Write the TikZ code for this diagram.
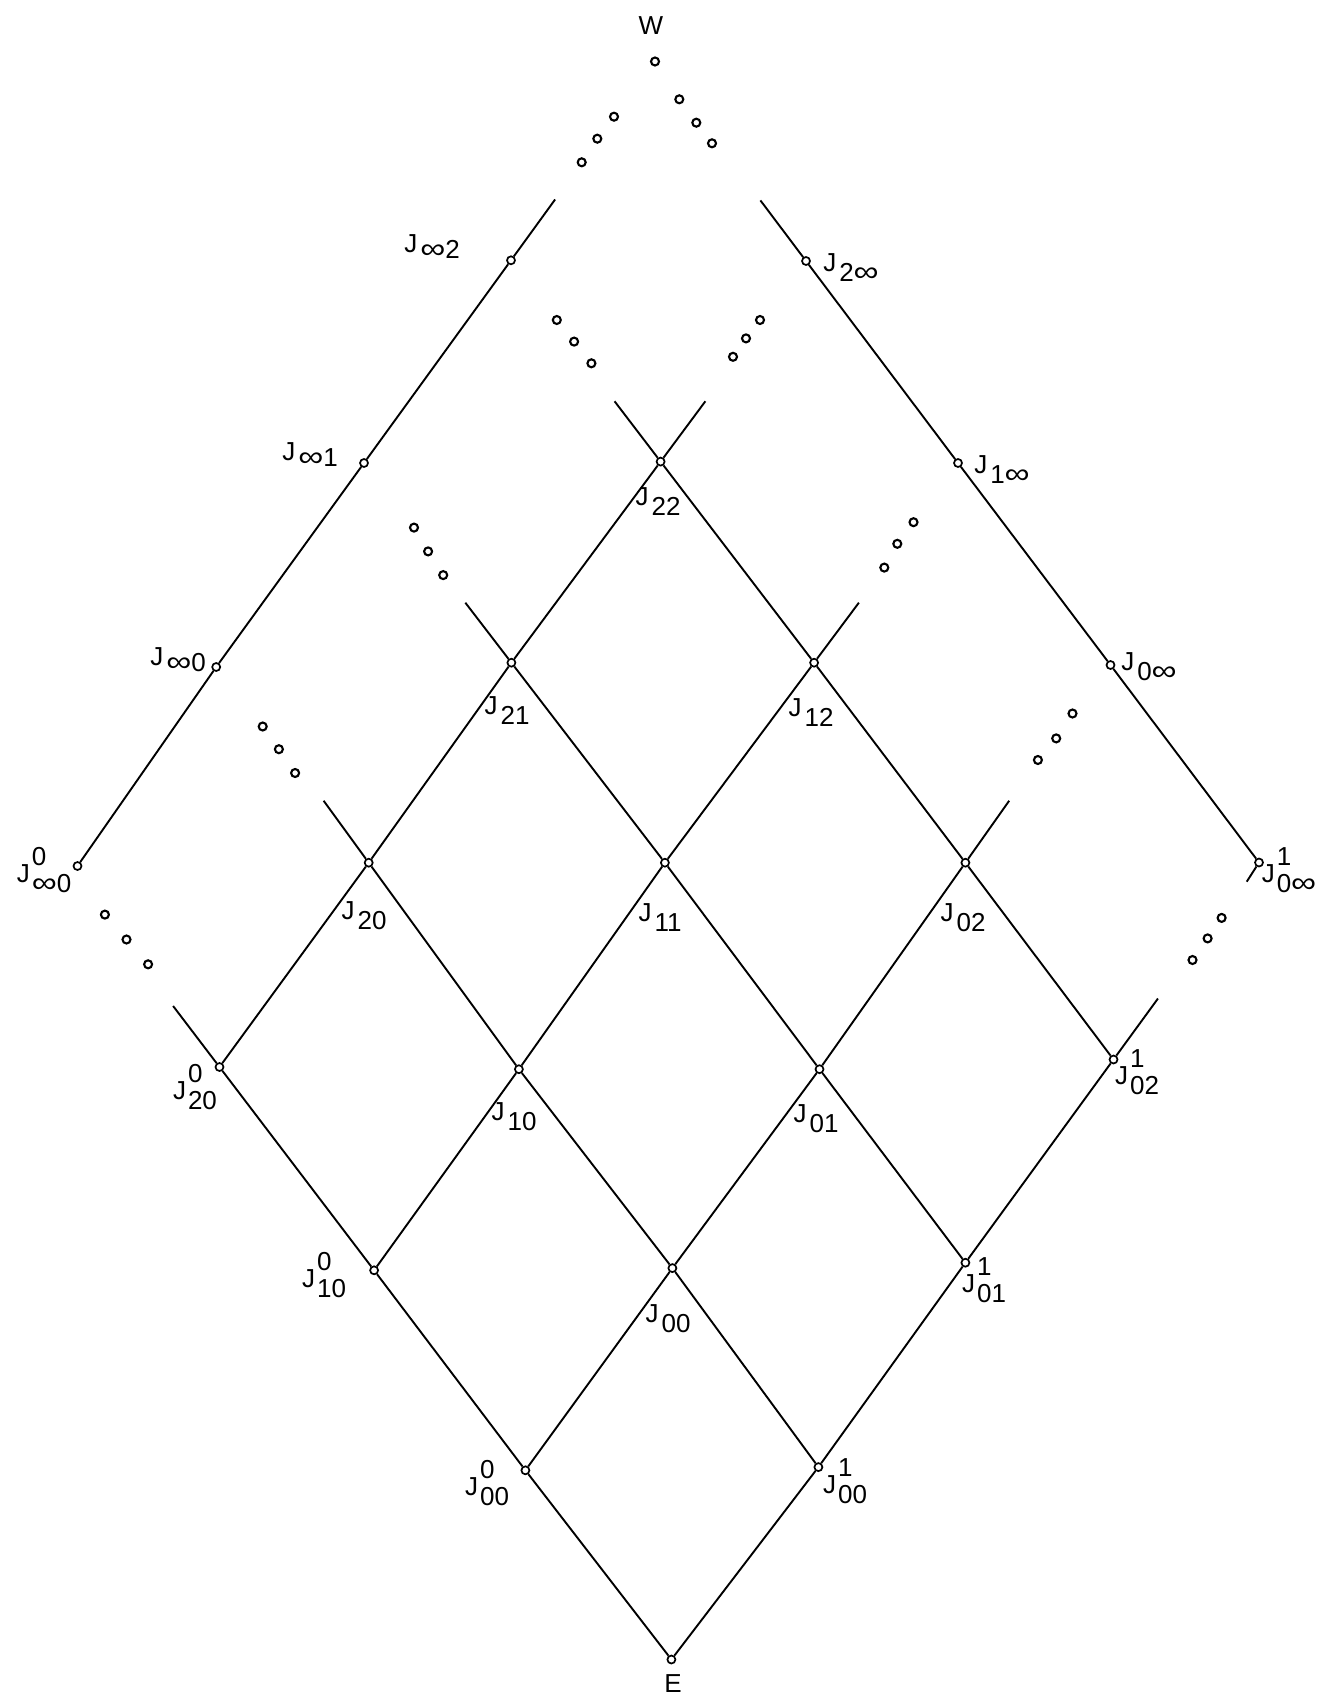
\documentclass[tikz,border=0pt]{standalone}
\usepackage{fontspec}
\setmainfont{Liberation Sans}
\usetikzlibrary{calc}
\newcommand\inff{\scalebox{1.35}[1.1]{∞}}
\newcommand\JB[1]{J\kern1.5pt\raisebox{-5pt}{#1}}
\newcommand\JC[1]{J\kern1.5pt\raisebox{-3pt}{#1}}
\newcommand\JA[2]{J\kern1pt\rlap{\raisebox{8.5pt}{#2}}\raisebox{-5pt}{#1}}
\begin{document}
\begin{tikzpicture}[x=0.5pt,y=-0.5pt,
  vtx/.style={circle,draw,fill=white,inner sep=0pt,minimum size=4pt,line width=0.85pt},
  dotc/.style={circle,draw,inner sep=0pt,minimum size=4pt,line width=1.05pt},
  lbl/.style={font=\fontsize{13}{15}\selectfont,inner sep=0pt},
  ln/.style={line width=0.95pt}]
\useasboundingbox (0,0) rectangle (1319,1695);
% vertices
\node[vtx] (E)    at (671.4,1659.5) {};
\node[vtx] (J00a) at (525.4,1470.3) {};
\node[vtx] (J00b) at (818.4,1467.1) {};
\node[vtx] (J00)  at (672.4,1268.1) {};
\node[vtx] (J10a) at (374.1,1270.3) {};
\node[vtx] (J01b) at (965.4,1262.7) {};
\node[vtx] (J10)  at (518.9,1069.2) {};
\node[vtx] (J01)  at (819.5,1069.2) {};
\node[vtx] (J20a) at (219.5,1067.0) {};
\node[vtx] (J02b) at (1113.5,1059.5) {};
\node[vtx] (J20)  at (368.7,862.7) {};
\node[vtx] (J11)  at (664.9,862.7) {};
\node[vtx] (J02)  at (965.4,862.7) {};
\node[vtx] (J21)  at (511.4,662.7) {};
\node[vtx] (J12)  at (814.1,662.7) {};
\node[vtx] (J22)  at (660.6,461.6) {};
\node[vtx] (Ji0a) at (77.5,866) {};
\node[vtx] (J0ib) at (1259,862.5) {};
\node[vtx] (Ji0)  at (216.2,667.0) {};
\node[vtx] (Ji1)  at (364.0,463.0) {};
\node[vtx] (Ji2)  at (511.0,260.3) {};
\node[vtx] (J0i)  at (1110.5,665.0) {};
\node[vtx] (J1i)  at (958.0,463.0) {};
\node[vtx] (J2i)  at (806.0,261.0) {};
\node[dotc] (Wc)  at (655,61.5) {};
% free ends
\coordinate (e1) at ($(J20a)!-0.3!(J10a)$);
\coordinate (e2) at ($(J02b)!-0.3!(J01b)$);
\coordinate (e3) at ($(J02)!-0.3!(J01)$);
\coordinate (e4) at ($(J12)!-0.3!(J11)$);
\coordinate (e5) at ($(J22)!-0.3!(J21)$);
\coordinate (e6) at ($(J20)!-0.3!(J10)$);
\coordinate (e7) at ($(J21)!-0.3!(J11)$);
\coordinate (e8) at ($(J22)!-0.3!(J12)$);
\coordinate (e9) at ($(Ji2)!-0.3!(Ji1)$);
\coordinate (e10) at ($(J2i)!-0.3!(J1i)$);
\coordinate (stub) at (1246.7,881.7);
% lines
\draw[ln] (E) -- (J00a) -- (J10a) -- (J20a) -- (e1);
\draw[ln] (E) -- (J00b) -- (J01b) -- (J02b) -- (e2);
\draw[ln] (J00a) -- (J00) -- (J01) -- (J02) -- (e3);
\draw[ln] (J10a) -- (J10) -- (J11) -- (J12) -- (e4);
\draw[ln] (J20a) -- (J20) -- (J21) -- (J22) -- (e5);
\draw[ln] (J00b) -- (J00) -- (J10) -- (J20) -- (e6);
\draw[ln] (J01b) -- (J01) -- (J11) -- (J21) -- (e7);
\draw[ln] (J02b) -- (J02) -- (J12) -- (J22) -- (e8);
\draw[ln] (Ji0a) -- (Ji0) -- (Ji1) -- (Ji2) -- (e9);
\draw[ln] (J0ib) -- (J0i) -- (J1i) -- (J2i) -- (e10);
\draw[ln] (J0ib) -- (stub);
% dot triples
\foreach \n/\x/\y in {a1/614/116.7, a2/597.3/138.7, a3/581.7/162.3,
  a4/679.3/99.3, a5/696.3/122.7, a6/712/143.3,
  b1/556.8/320, b2/574.1/341.6, b3/591.4/363.3,
  b4/760/320, b5/746/338.4, b6/733/356.8,
  c1/414/527.6, c2/428.1/551.4, c3/443.2/575.1,
  c4/913.5/522.2, c5/897.3/543.8, c6/884.3/567.6,
  d1/262.7/726.5, d2/278.9/749.2, d3/295.1/773,
  d4/1072.5/713.5, d5/1056.2/738.4, d6/1037.9/760,
  f1/104.9/914.6, f2/126.5/939.5, f3/148.1/964.3,
  f4/1221.6/917.9, f5/1207.6/938.4, f6/1192.5/960}
  \node[dotc] (\n) at (\x,\y) {};
% labels
\node[lbl] (lW) at (651,26) {W};
\node[lbl] (lE) at (673,1684) {E};
\node[lbl] (lJi2) at (432,247) {\JC{\inff2}};
\node[lbl] (lJi1) at (310,455) {\JC{\inff1}};
\node[lbl] (lJi0) at (178,660) {\JC{\inff0}};
\node[lbl] (lJi0a) at (44,870) {\JA{\inff0}{0}};
\node[lbl] (lJ2i) at (851,268) {\JB{2\inff}};
\node[lbl] (lJ1i) at (1002,470) {\JB{1\inff}};
\node[lbl] (lJ0i) at (1149,667) {\JB{0\inff}};
\node[lbl] (lJ0ib) at (1289,870) {\JA{0\inff}{1}};
\node[lbl] (lJ22) at (658,502) {\JB{22}};
\node[lbl] (lJ21) at (507,711) {\JB{21}};
\node[lbl] (lJ12) at (811,713) {\JB{12}};
\node[lbl] (lJ20) at (364,916) {\JB{20}};
\node[lbl] (lJ11) at (660,918) {\JB{11}};
\node[lbl] (lJ02) at (963,918) {\JB{02}};
\node[lbl] (lJ20a) at (195,1087) {\JA{20}{0}};
\node[lbl] (lJ10) at (514,1117) {\JB{10}};
\node[lbl] (lJ01) at (816,1119) {\JB{01}};
\node[lbl] (lJ02b) at (1137,1072) {\JA{02}{1}};
\node[lbl] (lJ10a) at (324,1275) {\JA{10}{0}};
\node[lbl] (lJ00) at (668,1319) {\JB{00}};
\node[lbl] (lJ01b) at (984,1280) {\JA{01}{1}};
\node[lbl] (lJ00a) at (487,1483) {\JA{00}{0}};
\node[lbl] (lJ00b) at (845,1481) {\JA{00}{1}};
\end{tikzpicture}
\end{document}
